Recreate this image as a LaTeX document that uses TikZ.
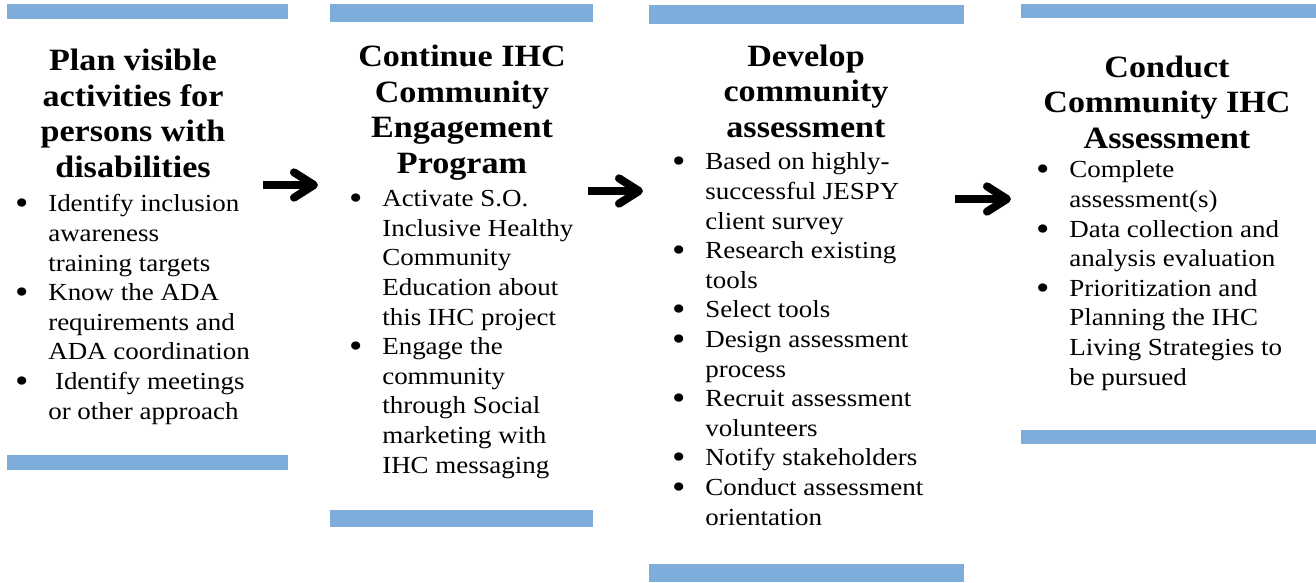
\documentclass[tikz,border=0pt]{standalone}
\usepackage{fontspec}
\setmainfont{Liberation Serif}[FakeStretch=1.1]
\usetikzlibrary{arrows.meta}
\definecolor{BarBlue}{HTML}{7FADDB}
\newcommand{\itm}{\llap{\raisebox{-2.3pt}{\fontsize{26}{26}\selectfont\textbullet}\hspace{14.8pt}}}

\begin{document}
\begin{tikzpicture}[x=0.75pt,y=-0.75pt,
  headtext/.style={font=\bfseries\fontsize{23.25}{26.6}\selectfont, align=center, anchor=base, inner sep=0pt},
  itemtext/.style={font=\fontsize{18.4}{22.2}\selectfont, align=left, anchor=base west, inner sep=0pt},
  bar/.style={fill=BarBlue},
  flowarrow/.style={line width=6pt, -{Straight Barb[length=15pt,width=19pt,round]}}]
  \useasboundingbox (0,0) rectangle (1316,582);
  % top and bottom bars
  \fill[bar] (7,4) rectangle (288,19);
  \fill[bar] (7,455) rectangle (288,470);
  \fill[bar] (330,4) rectangle (593,22);
  \fill[bar] (330,510) rectangle (593,527);
  \fill[bar] (649,5) rectangle (964,24);
  \fill[bar] (649,564) rectangle (964,582);
  \fill[bar] (1021,4) rectangle (1316,18);
  \fill[bar] (1021,430) rectangle (1316,444);
  % steps (placed at the baseline of their last line)
  \node[headtext] (head1) at (133,177) {Plan visible\\activities for\\persons with\\disabilities};
  \node[itemtext] (list1) at (48,419) {\itm Identify inclusion\\awareness\\training targets\\\itm Know the ADA\\requirements and\\ADA coordination\\\itm\ Identify meetings\\or other approach};
  \node[headtext] (head2) at (462,173) {Continue IHC\\Community\\Engagement\\Program};
  \node[itemtext] (list2) at (382,473) {\itm Activate S.O.\\Inclusive Healthy\\Community\\Education about\\this IHC project\\\itm Engage the\\community\\through Social\\marketing with\\IHC messaging};
  \node[headtext] (head3) at (806,137) {Develop\\community\\assessment};
  \node[itemtext] (list3) at (705,525) {\itm Based on highly-\\successful JESPY\\client survey\\\itm Research existing\\tools\\\itm Select tools\\\itm Design assessment\\process\\\itm Recruit assessment\\volunteers\\\itm Notify stakeholders\\\itm Conduct assessment\\orientation};
  \node[headtext] (head4) at (1167,148) {Conduct\\Community IHC\\Assessment};
  \node[itemtext] (list4) at (1069,385) {\itm Complete\\assessment(s)\\\itm Data collection and\\analysis evaluation\\\itm Prioritization and\\Planning the IHC\\Living Strategies to\\be pursued};
  % arrows
  \coordinate (a1s) at (263,185);
  \coordinate (a1e) at (318,185);
  \coordinate (a2s) at (588,191);
  \coordinate (a2e) at (643,191);
  \coordinate (a3s) at (955,199);
  \coordinate (a3e) at (1011,199);
  \draw[flowarrow] (a1s) -- (a1e);
  \draw[flowarrow] (a2s) -- (a2e);
  \draw[flowarrow] (a3s) -- (a3e);
\end{tikzpicture}
\end{document}
